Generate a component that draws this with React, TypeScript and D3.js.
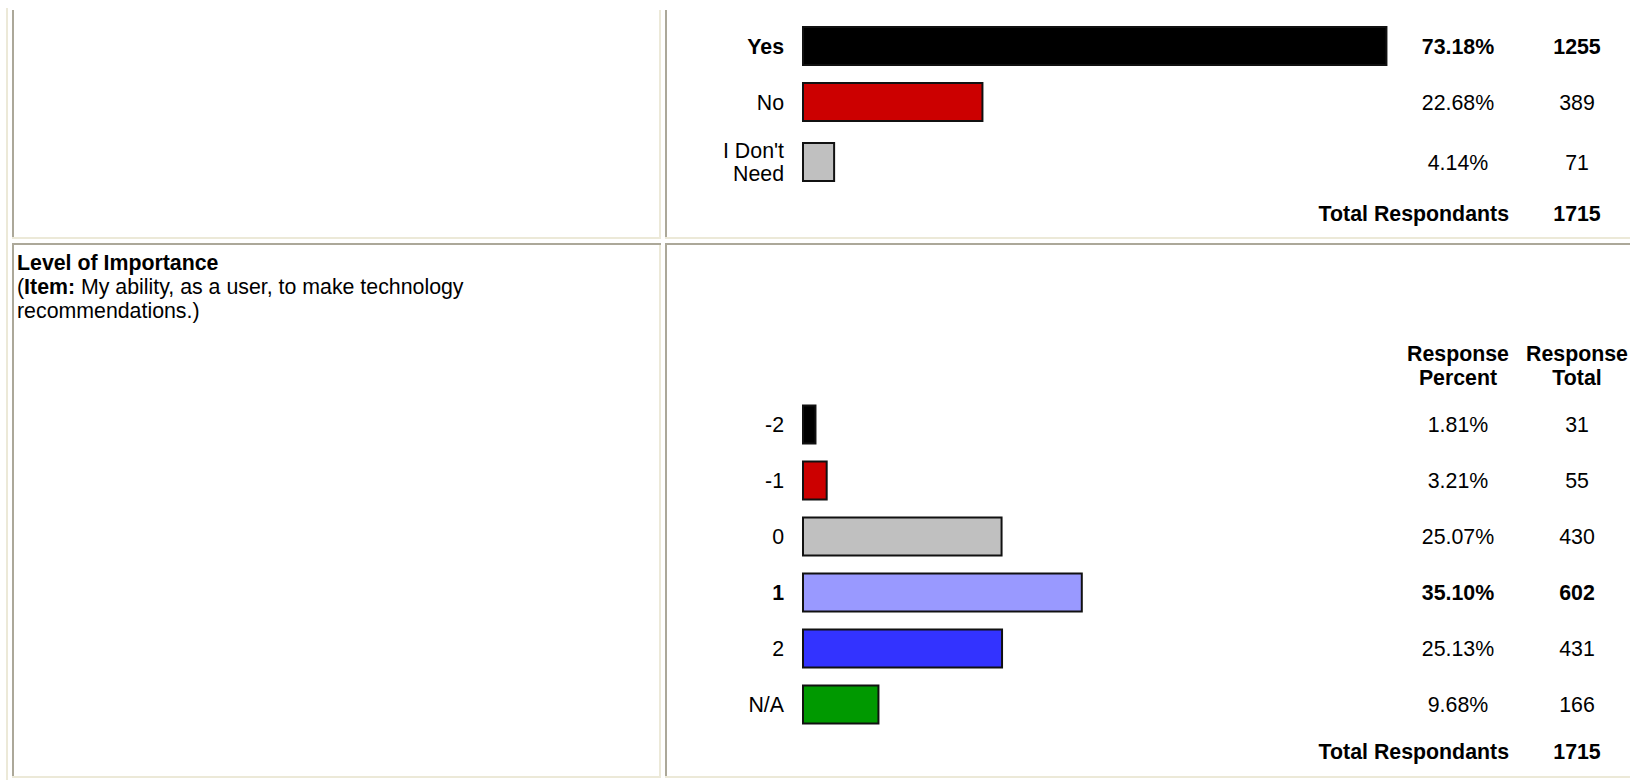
import React from "react";
import * as d3 from "d3";

// ---- Data ----
const q1Labels = ["Yes", "No", "I Don't Need"];
const q1Percents = [73.18, 22.68, 4.14];
const q1Totals = [1255, 389, 71];
const q1Colors = ["#000000", "#cc0000", "#c0c0c0"];
const q1Respondents = 1715;

const q2Title = "Level of Importance";
const q2Item = "My ability, as a user, to make technology";
const q2ItemLine2 = "recommendations.)";
const q2Labels = ["-2", "-1", "0", "1", "2", "N/A"];
const q2Percents = [1.81, 3.21, 25.07, 35.1, 25.13, 9.68];
const q2Totals = [31, 55, 430, 602, 431, 166];
const q2Colors = ["#000000", "#cc0000", "#c0c0c0", "#9999ff", "#3333ff", "#009900"];
const q2Respondents = 1715;

const headerPercent = ["Response", "Percent"];
const headerTotal = ["Response", "Total"];

const FONT = "'Liberation Sans', Arial, Helvetica, sans-serif";
const FS = 21.33;
const LIGHT = "#ece9d8";
const DARK = "#aca899";

const x = d3.scaleLinear().domain([0, 100]).range([0, 800]);
const BAR_X = 802;
const LABEL_X = 784;
const PCT_X = 1458;
const TOT_X = 1577;
const TOTAL_LABEL_X = 1509;
const BAR_H = 40;
const BASE = 7.6; // baseline offset from visual centre

function wrapLabel(s: string): string[] {
  return s === "I Don't Need" ? ["I Don't", "Need"] : [s];
}

function rowCenters(labels: string[], top: number) {
  let y = top;
  return labels.map((l) => {
    const lines = wrapLabel(l).length;
    const h = Math.max(BAR_H, lines * 24) + 16;
    const c = y + h / 2;
    y += h;
    return { c, end: y };
  });
}

function Chart({ labels, percents, totals, colors, respondents, top, bold, totalOffset }: any) {
  const rows = rowCenters(labels, top);
  const end = rows[rows.length - 1].end;
  return (
    <g>
      {labels.map((l: string, i: number) => {
        const c = rows[i].c;
        const lines = wrapLabel(l);
        const fw = i === bold ? "bold" : "normal";
        const w = x(percents[i]);
        return (
          <g key={l}>
            {lines.map((ln, j) => (
              <text
                key={j}
                x={LABEL_X}
                y={c + BASE + (j - (lines.length - 1) / 2) * 23}
                textAnchor="end"
                fontWeight={fw}
              >
                {ln}
              </text>
            ))}
            <rect x={BAR_X + 1} y={c - BAR_H / 2 + 1} width={Math.max(w - 2, 1)} height={BAR_H - 2} fill={colors[i]} stroke="#111" strokeWidth={2} />
            <text x={PCT_X} y={c + BASE} textAnchor="middle" fontWeight={fw}>
              {percents[i].toFixed(2)}%
            </text>
            <text x={TOT_X} y={c + BASE} textAnchor="middle" fontWeight={fw}>
              {totals[i]}
            </text>
          </g>
        );
      })}
      <text x={TOTAL_LABEL_X} y={end + totalOffset + BASE} textAnchor="end" fontWeight="bold">
        Total Respondants
      </text>
      <text x={TOT_X} y={end + totalOffset + BASE} textAnchor="middle" fontWeight="bold">
        {respondents}
      </text>
    </g>
  );
}

export default function App() {
  const W = 1630;
  const H = 780;
  return (
    <div style={{ position: "fixed", left: 0, top: 0, width: W, height: H, overflow: "hidden", background: "#fff" }}>
      <svg width={W} height={H} style={{ display: "block" }} fontFamily={FONT} fontSize={FS} fill="#000">
        <rect width={W} height={H} fill="#fff" />
        {/* table borders */}
        <rect x={6} y={8} width={2} height={H} fill={LIGHT} />
        {/* row 1 left cell */}
        <rect x={12} y={10} width={2} height={227} fill={DARK} />
        <rect x={12} y={237} width={649} height={2} fill={LIGHT} />
        <rect x={659} y={10} width={2} height={229} fill={LIGHT} />
        {/* row 1 right cell */}
        <rect x={665} y={10} width={2} height={227} fill={DARK} />
        <rect x={665} y={237} width={W - 665} height={2} fill={LIGHT} />
        {/* row 2 left cell */}
        <rect x={12} y={243} width={649} height={2} fill={DARK} />
        <rect x={12} y={243} width={2} height={533} fill={DARK} />
        <rect x={659} y={245} width={2} height={533} fill={LIGHT} />
        <rect x={12} y={776} width={649} height={2} fill={LIGHT} />
        {/* row 2 right cell */}
        <rect x={665} y={243} width={W - 665} height={2} fill={DARK} />
        <rect x={665} y={243} width={2} height={533} fill={DARK} />
        <rect x={665} y={776} width={W - 665} height={2} fill={LIGHT} />

        {/* question 1 */}
        <Chart
          labels={q1Labels}
          percents={q1Percents}
          totals={q1Totals}
          colors={q1Colors}
          respondents={q1Respondents}
          top={18}
          bold={0}
          totalOffset={19.5}
        />

        {/* question 2 left text */}
        <text x={17} y={270} fontWeight="bold">{q2Title}</text>
        <text x={17} y={294}>
          (<tspan fontWeight="bold">Item:</tspan> {q2Item}
        </text>
        <text x={17} y={318}>{q2ItemLine2}</text>

        {/* headers */}
        {headerPercent.map((h, j) => (
          <text key={"p" + j} x={PCT_X} y={353 + BASE + j * 24} textAnchor="middle" fontWeight="bold">
            {h}
          </text>
        ))}
        {headerTotal.map((h, j) => (
          <text key={"t" + j} x={TOT_X} y={353 + BASE + j * 24} textAnchor="middle" fontWeight="bold">
            {h}
          </text>
        ))}

        <Chart
          labels={q2Labels}
          percents={q2Percents}
          totals={q2Totals}
          colors={q2Colors}
          respondents={q2Respondents}
          top={396.5}
          bold={3}
          totalOffset={19}
        />
      </svg>
    </div>
  );
}
